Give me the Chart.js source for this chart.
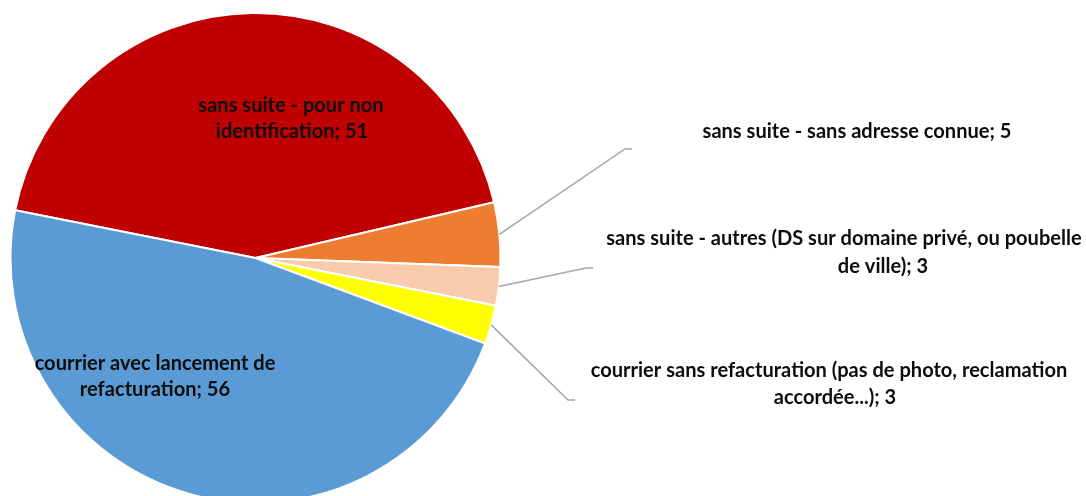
<!DOCTYPE html>
<html>
<head>
<meta charset="utf-8">
<script src="https://cdn.jsdelivr.net/npm/chart.js@4"></script>
<style>
  html, body { margin: 0; padding: 0; background: #ffffff; overflow: hidden; }
  #wrap { position: relative; width: 1086px; height: 496px; }
</style>
</head>
<body>
<div id="wrap"><canvas id="c" width="1086" height="496"></canvas></div>
<script>
// ---- data ----
const categories = [
  "sans suite - pour non identification",
  "sans suite - sans adresse connue",
  "sans suite - autres (DS sur domaine privé, ou poubelle de ville)",
  "courrier sans refacturation (pas de photo, reclamation accordée...)",
  "courrier avec lancement de refacturation"
];
const values = [51, 5, 3, 3, 56];
const colors = ["#C00000", "#ED7D31", "#F8CBAD", "#FFFF00", "#5B9BD5"];
// where each data label wraps to a second line (text of the first line)
const firstLines = [
  "sans suite - pour non",
  null,
  "sans suite - autres (DS sur domaine privé, ou poubelle",
  "courrier sans refacturation (pas de photo, reclamation",
  "courrier avec lancement de"
];

function labelLines(i) {
  const full = categories[i] + "; " + values[i];
  const f = firstLines[i];
  if (!f) return [full];
  return [f, full.slice(f.length).trim()];
}

// label layout (pixels)
const layoutInfo = [
  { lines: [[291, 112], [292, 138]] },
  { lines: [[857, 138]], leader: [[625, 149], [632, 149]] },
  { lines: [[844, 245], [883, 273]], leader: [[586, 268], [593, 268]] },
  { lines: [[829, 377], [835, 404]], leader: [[568, 400], [575, 400]] },
  { lines: [[155, 370], [155, 396]] }
];

const labelPlugin = {
  id: 'labels',
  afterDatasetsDraw(chart) {
    const ctx = chart.ctx;
    const meta = chart.getDatasetMeta(0);
    ctx.save();
    // fit font so the reference label width (~309px) is matched
    ctx.font = "bold 100px Lato";
    const w = ctx.measureText(labelLines(1)[0]).width;
    const size = 100 * 309 / w;
    meta.data.forEach((arc, i) => {
      const info = layoutInfo[i];
      if (info.leader) {
        const p = arc.getProps(['x', 'y', 'startAngle', 'endAngle', 'outerRadius'], true);
        const mid = (p.startAngle + p.endAngle) / 2;
        const sx = p.x + Math.cos(mid) * p.outerRadius;
        const sy = p.y + Math.sin(mid) * p.outerRadius;
        ctx.beginPath();
        ctx.strokeStyle = "#A6A6A6";
        ctx.lineWidth = 1.5;
        ctx.moveTo(sx, sy);
        info.leader.forEach(pt => ctx.lineTo(pt[0], pt[1]));
        ctx.stroke();
      }
      const lines = labelLines(i);
      ctx.font = "bold " + size.toFixed(2) + "px Lato";
      ctx.fillStyle = "#0d0d0d";
      ctx.textAlign = "center";
      ctx.textBaseline = "alphabetic";
      lines.forEach((t, k) => {
        const pos = info.lines[k];
        ctx.fillText(t, pos[0], pos[1]);
      });
    });
    ctx.restore();
  }
};

new Chart(document.getElementById('c'), {
  type: 'pie',
  data: {
    labels: categories,
    datasets: [{
      data: values,
      backgroundColor: colors,
      borderColor: "#ffffff",
      borderWidth: 2,
      clip: false
    }]
  },
  options: {
    responsive: false,
    animation: false,
    events: [],
    rotation: -78.74,
    radius: 245,
    layout: { padding: { left: 10, right: 585, top: 20, bottom: 0 } },
    plugins: { legend: { display: false }, tooltip: { enabled: false } }
  },
  plugins: [labelPlugin]
});
</script>
</body>
</html>
